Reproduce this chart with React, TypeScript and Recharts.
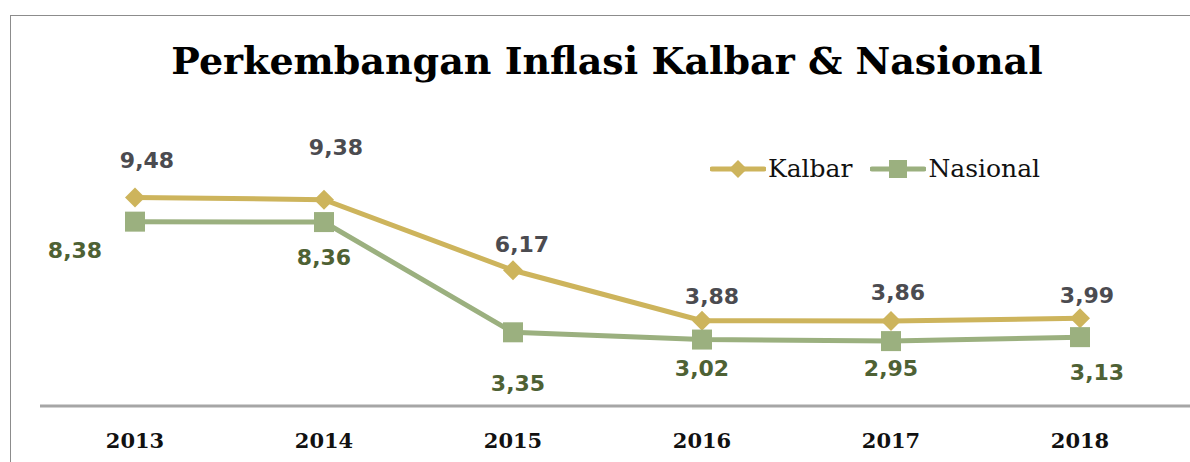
import { LineChart, Line, XAxis, YAxis, LabelList } from "recharts";

const years = ["2013", "2014", "2015", "2016", "2017", "2018"];
const kalbar = [9.48, 9.38, 6.17, 3.88, 3.86, 3.99];
const nasional = [8.38, 8.36, 3.35, 3.02, 2.95, 3.13];

// manual label nudges, like the hand-placed labels in the original
const kalbarLabelOffset = [
  [12, -37], [12, -52], [9, -26], [10, -24], [7, -29], [7, -23],
];
const nasionalLabelOffset = [
  [-60, 29], [0, 35], [5, 51], [0, 29], [0, 27], [17, 35],
];

const GOLD = "#cdb45c";
const SAGE = "#9bb07f";

const data = years.map((year, i) => ({
  year,
  kalbar: kalbar[i],
  nasional: nasional[i],
}));

const fmt = (v: number) => v.toFixed(2).replace(".", ",");

function Diamond(props: any) {
  const { cx, cy, size = 10 } = props;
  if (cx == null || cy == null) return null;
  return (
    <path
      d={`M${cx},${cy - size} L${cx + size},${cy} L${cx},${cy + size} L${cx - size},${cy} Z`}
      fill={GOLD}
    />
  );
}

function Square(props: any) {
  const { cx, cy, size = 10 } = props;
  if (cx == null || cy == null) return null;
  return <rect x={cx - size} y={cy - size} width={size * 2} height={size * 2} fill={SAGE} />;
}

function makeLabel(offsets: number[][], color: string) {
  return (props: any) => {
    const { x, y, value, index } = props;
    const [dx, dy] = offsets[index] || [0, 0];
    return (
      <text
        x={x + dx}
        y={y + dy}
        textAnchor="middle"
        dominantBaseline="central"
        fill={color}
        fontFamily="DejaVu Sans"
        fontWeight="bold"
        fontSize={22}
      >
        {fmt(value)}
      </text>
    );
  };
}

function YearTick(props: any) {
  const { x, payload } = props;
  return (
    <text
      x={x}
      y={448}
      textAnchor="middle"
      fill="#111"
      fontFamily="DejaVu Serif"
      fontWeight="bold"
      fontSize={21}
    >
      {payload.value}
    </text>
  );
}

function LegendBox() {
  const items = [
    { name: "Kalbar", color: GOLD, marker: "diamond" },
    { name: "Nasional", color: SAGE, marker: "square" },
  ];
  return (
    <div style={{ display: "flex", alignItems: "center", gap: 18 }}>
      {items.map((it) => (
        <div key={it.name} style={{ display: "flex", alignItems: "center" }}>
          <svg width={56} height={24}>
            <line x1={2} y1={12} x2={54} y2={12} stroke={it.color} strokeWidth={5} strokeLinecap="round" />
            {it.marker === "diamond" ? (
              <path d="M28,3 L37,12 L28,21 L19,12 Z" fill={it.color} />
            ) : (
              <rect x={19} y={3} width={18} height={18} fill={it.color} />
            )}
          </svg>
          <span style={{ fontFamily: "DejaVu Serif", fontSize: 25, color: "#111", marginLeft: 2 }}>
            {it.name}
          </span>
        </div>
      ))}
    </div>
  );
}

export default function App() {
  return (
    <div style={{ position: "relative", width: 1190, height: 462, background: "#fff", overflow: "hidden" }}>
      <style>{`body{margin:0}`}</style>
      {/* frame */}
      <div
        style={{
          position: "absolute",
          left: 10,
          top: 15,
          width: 1200,
          height: 460,
          borderLeft: "1.5px solid #8c8c8c",
          borderTop: "1.5px solid #8c8c8c",
        }}
      />
      <div
        style={{
          position: "absolute",
          left: 0,
          top: 38,
          width: 1214,
          textAlign: "center",
          fontFamily: "DejaVu Serif",
          fontWeight: "bold",
          fontSize: 38,
          color: "#000",
        }}
      >
        Perkembangan Inflasi Kalbar &amp; Nasional
      </div>
      <div style={{ position: "absolute", left: 710, top: 154 }}>
        <LegendBox />
      </div>
      <LineChart
        width={1190}
        height={462}
        data={data}
        margin={{ top: 142, right: 0, bottom: 0, left: 40 }}
        style={{ position: "absolute", left: 0, top: 0 }}
      >
        <XAxis
          dataKey="year"
          height={56}
          padding={{ left: 95, right: 110 }}
          axisLine={{ stroke: "#a6a6a6", strokeWidth: 3 }}
          tickLine={false}
          tick={<YearTick />}
          interval={0}
        />
        <YAxis hide domain={[0, 12]} />
        <Line
          dataKey="kalbar"
          name="Kalbar"
          stroke={GOLD}
          strokeWidth={5}
          dot={<Diamond size={10} />}
          activeDot={false}
          isAnimationActive={false}
        >
          <LabelList dataKey="kalbar" content={makeLabel(kalbarLabelOffset, "#4b4b50")} />
        </Line>
        <Line
          dataKey="nasional"
          name="Nasional"
          stroke={SAGE}
          strokeWidth={5}
          dot={<Square size={10} />}
          activeDot={false}
          isAnimationActive={false}
        >
          <LabelList dataKey="nasional" content={makeLabel(nasionalLabelOffset, "#4e6134")} />
        </Line>
      </LineChart>
    </div>
  );
}
